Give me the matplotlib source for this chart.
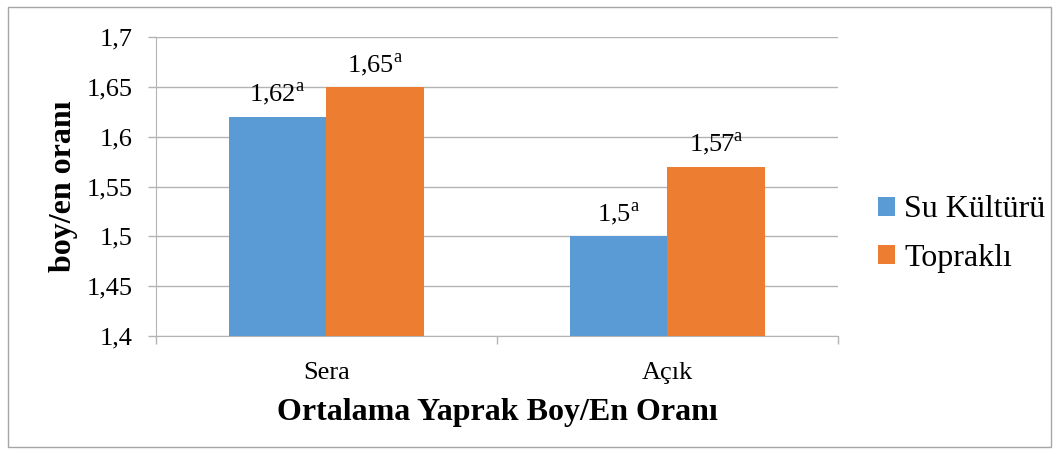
import matplotlib
matplotlib.use("Agg")
from matplotlib import pyplot as plt
from matplotlib.patches import Rectangle

plt.rcParams['font.family'] = ['Liberation Serif', 'DejaVu Serif']
plt.rcParams['mathtext.fontset'] = 'custom'
plt.rcParams['mathtext.rm'] = 'Liberation Serif'

# veriler
categories = ["Sera", "Açık"]
su_kulturu = [1.62, 1.5]
toprakli = [1.65, 1.57]
su_labels = ["1,62", "1,5"]
top_labels = ["1,65", "1,57"]
letters_su = ["a", "a"]
letters_top = ["a", "a"]
yticks = [1.4, 1.45, 1.5, 1.55, 1.6, 1.65, 1.7]
ytick_labels = ["1,4", "1,45", "1,5", "1,55", "1,6", "1,65", "1,7"]

blue = "#5B9BD5"
orange = "#ED7D31"
grid_c = "#B3B3B3"

fig = plt.figure(figsize=(10.59, 4.54), dpi=100)
ax = fig.add_axes([0.1473, 0.2599, 0.644, 0.6586])

x = list(range(len(categories)))
w = 0.287
ax.bar([i - w / 2 for i in x], [v - 1.4 for v in su_kulturu], w, bottom=1.4,
       color=blue, label="Su Kültürü", zorder=3)
ax.bar([i + w / 2 for i in x], [v - 1.4 for v in toprakli], w, bottom=1.4,
       color=orange, label="Topraklı", zorder=3)

# etiketler
for i in x:
    ax.annotate(su_labels[i] + r"$^{\mathrm{" + letters_su[i] + "}}$",
                (i - w / 2, su_kulturu[i]), xytext=(0, 6), textcoords="offset points",
                ha="center", va="bottom", fontsize=19)
    ax.annotate(top_labels[i] + r"$^{\mathrm{" + letters_top[i] + "}}$",
                (i + w / 2, toprakli[i]), xytext=(0, 6), textcoords="offset points",
                ha="center", va="bottom", fontsize=19)

ax.set_ylim(1.4, 1.7)
ax.set_xlim(-0.5, 1.5)
ax.set_yticks(yticks)
ax.set_yticklabels(ytick_labels, fontsize=19)
ax.set_xticks(x)
ax.set_xticklabels(categories, fontsize=19)
ax.set_xticks([-0.5, 0.5, 1.5], minor=True)
ax.tick_params(axis="x", which="major", length=0, pad=19)
ax.tick_params(axis="x", which="minor", length=6, color=grid_c, width=1)
ax.tick_params(axis="y", length=6, color=grid_c, width=1, pad=11)

ax.yaxis.grid(True, color=grid_c, linewidth=1, zorder=0)
ax.set_axisbelow(True)
for s in ["top", "right"]:
    ax.spines[s].set_visible(False)
ax.spines["left"].set_color(grid_c)
ax.spines["bottom"].set_color(grid_c)

ax.set_xlabel("Ortalama Yaprak Boy/En Oranı", fontsize=23, fontweight="bold", labelpad=10)
ax.set_ylabel("boy/en oranı", fontsize=23, fontweight="bold", labelpad=6)

fig.legend(loc="center left", bbox_to_anchor=(0.829, 0.4846), frameon=False, fontsize=23,
           borderpad=0, borderaxespad=0,
           handlelength=0.53, handleheight=0.53, handletextpad=0.3, labelspacing=0.6)

# cerceve
fig.patches.append(Rectangle((0.008, 0.015), 0.984, 0.97, transform=fig.transFigure,
                             fill=False, edgecolor="#A6A6A6", linewidth=1))

fig.savefig("out.png", dpi=100)
